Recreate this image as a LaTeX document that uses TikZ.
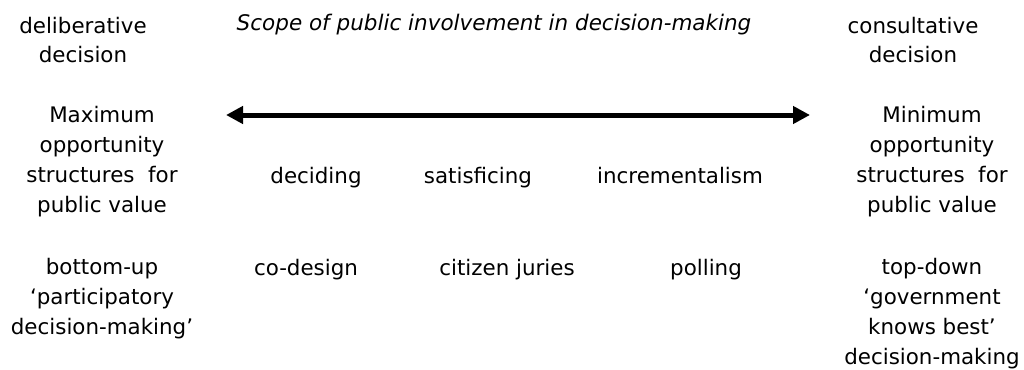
\documentclass[tikz,border=0pt]{standalone}
\usepackage{fontspec}
\setmainfont{DejaVu Sans}
\usetikzlibrary{arrows.meta}
\begin{document}
\begin{tikzpicture}[x=1pt,y=-1pt,
  lbl/.style={anchor=base,align=center,inner sep=0pt,
    font=\fontsize{21.4}{29.7}\selectfont},
  ttl/.style={lbl,font=\fontsize{21.5}{29.7}\selectfont\itshape},
  scale arrow/.style={line width=5pt,
    {Triangle[length=17pt,width=17pt]}-{Triangle[length=17pt,width=17pt]}}]
\useasboundingbox (0,0) rectangle (1024,369);
% headings (a multi-line node sits on the baseline of its last line)
\node[lbl] (delib) at (83,63) {deliberative\\decision};
\node[ttl] (title) at (494,31) {Scope of public involvement in decision-making};
\node[lbl] (consult) at (913,63) {consultative\\decision};
% the scale
\coordinate (lend) at (226,115);
\coordinate (rend) at (810,115);
\draw[scale arrow] (lend) -- (rend);
% end points of the scale
\node[lbl] (maxopp) at (102,212) {Maximum\\opportunity\\structures~~for\\public value};
\node[lbl] (minopp) at (932,212) {Minimum\\opportunity\\structures~~for\\public value};
% decision styles
\node[lbl] (deciding) at (316,183) {deciding};
\node[lbl] (satisf) at (478,183) {satisficing};
\node[lbl] (increm) at (680,183) {incrementalism};
% forms of involvement
\node[lbl] (bottomup) at (102,334) {bottom-up\\‘participatory\\decision-making’};
\node[lbl] (codesign) at (306,275) {co-design};
\node[lbl] (juries) at (507,275) {citizen juries};
\node[lbl] (polling) at (706,275) {polling};
\node[lbl] (topdown) at (932,364) {top-down\\‘government\\knows best’\\decision-making};
\end{tikzpicture}
\end{document}
